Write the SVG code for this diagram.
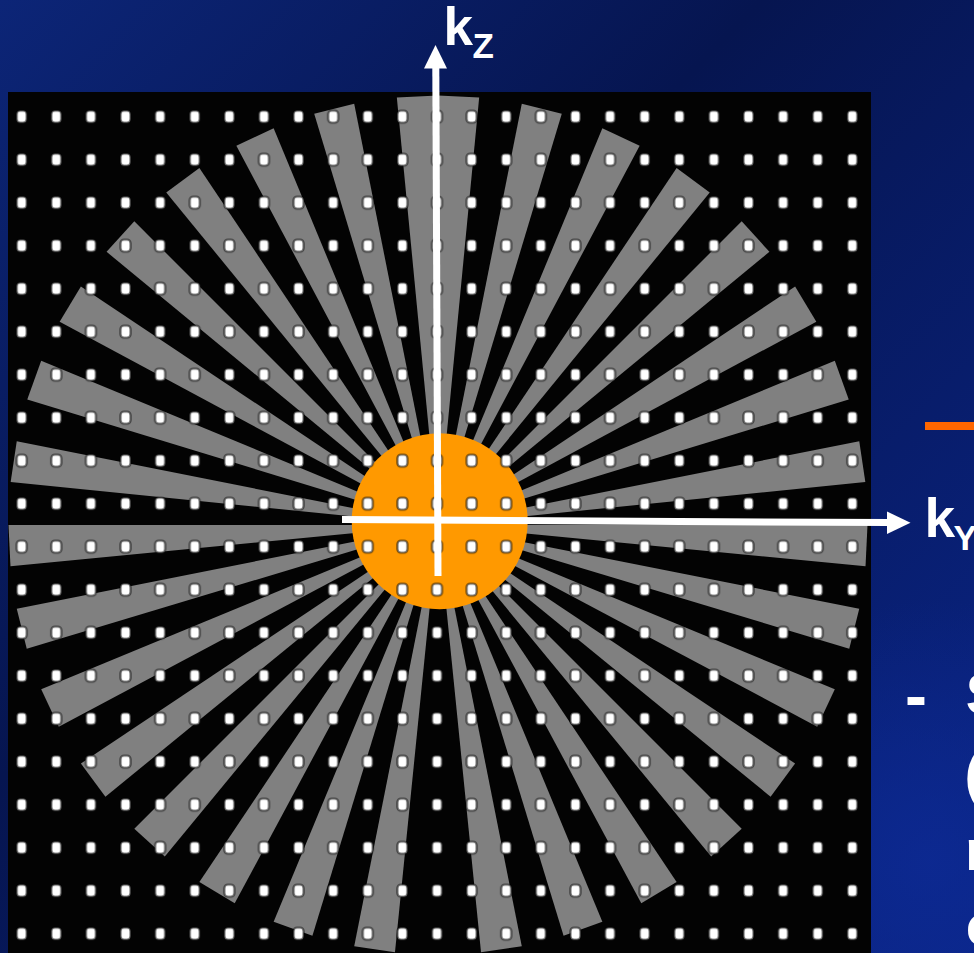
<svg xmlns="http://www.w3.org/2000/svg" width="974" height="953" viewBox="0 0 974 953">
<defs>
<style>
.lbl{font-family:"Liberation Sans",Arial,sans-serif;font-weight:bold;fill:#ffffff}
.blade{fill:#808080}
.ax{stroke:#ffffff;stroke-width:7;fill:none}
.head{fill:#ffffff}
</style>
<linearGradient id="bg" x1="0" y1="0" x2="974" y2="953" gradientUnits="userSpaceOnUse">
<stop offset="0" stop-color="#0c2577"/>
<stop offset="0.4" stop-color="#061550"/>
<stop offset="1" stop-color="#0a2587"/>
</linearGradient>
<radialGradient id="glow" cx="930" cy="860" r="260" gradientUnits="userSpaceOnUse">
<stop offset="0" stop-color="#0d2a94" stop-opacity="0.8"/>
<stop offset="1" stop-color="#0d2a94" stop-opacity="0"/>
</radialGradient>
<pattern id="dots" patternUnits="userSpaceOnUse" x="4.4" y="95.2" width="34.61" height="43">
<rect x="12.3" y="15.5" width="10" height="12" rx="3.5" fill="#ffffff" stroke="#000000" stroke-opacity="0.55" stroke-width="2.2"/>
</pattern>
<polygon id="bl" points="0,0 -41.17,-427.52 0,-429.5"/>
<polygon id="br" points="0,0 41.17,-427.52 0,-429.5"/>
</defs>

<g id="background">
<rect x="0" y="0" width="974" height="953" fill="url(#bg)"/>
<rect x="0" y="0" width="974" height="953" fill="url(#glow)"/>
</g>

<g id="kspace">
<rect x="8" y="92" width="863" height="861" fill="#030303"/>
</g>

<g id="blades" class="blade" transform="translate(438,525)">
<use href="#bl" transform="rotate(0)"/>
<use href="#bl" transform="rotate(-11.25)"/>
<use href="#bl" transform="rotate(-22.5)"/>
<use href="#bl" transform="rotate(-33.75)"/>
<use href="#bl" transform="rotate(-45)"/>
<use href="#bl" transform="rotate(-56.25)"/>
<use href="#bl" transform="rotate(-67.5)"/>
<use href="#bl" transform="rotate(-78.75)"/>
<use href="#bl" transform="rotate(-90)"/>
<use href="#bl" transform="rotate(-101.25)"/>
<use href="#bl" transform="rotate(-112.5)"/>
<use href="#bl" transform="rotate(-123.75)"/>
<use href="#bl" transform="rotate(-135)"/>
<use href="#bl" transform="rotate(-146.25)"/>
<use href="#bl" transform="rotate(-157.5)"/>
<use href="#bl" transform="rotate(-168.75)"/>
<use href="#br" transform="rotate(0)"/>
<use href="#br" transform="rotate(11.25)"/>
<use href="#br" transform="rotate(22.5)"/>
<use href="#br" transform="rotate(33.75)"/>
<use href="#br" transform="rotate(45)"/>
<use href="#br" transform="rotate(56.25)"/>
<use href="#br" transform="rotate(67.5)"/>
<use href="#br" transform="rotate(78.75)"/>
<use href="#br" transform="rotate(90)"/>
<use href="#br" transform="rotate(101.25)"/>
<use href="#br" transform="rotate(112.5)"/>
<use href="#br" transform="rotate(123.75)"/>
<use href="#br" transform="rotate(135)"/>
<use href="#br" transform="rotate(146.25)"/>
<use href="#br" transform="rotate(157.5)"/>
<use href="#br" transform="rotate(168.75)"/>
</g>

<g id="center-region">
<circle cx="439.7" cy="521.3" r="88" fill="#ff9900"/>
</g>

<g id="grid-points">
<rect x="8" y="92" width="863" height="861" fill="url(#dots)"/>
</g>

<g id="connectors">
<line class="ax" x1="438" y1="576" x2="435.8" y2="66"/>
<polygon class="head" points="424,68.5 447,68.5 435.5,45"/>
<line class="ax" x1="342" y1="519.5" x2="889" y2="522.6"/>
<polygon class="head" points="887,511.5 887,534 910.5,522.7"/>
</g>

<g id="label-kz">
<text class="lbl" x="443.5" y="45" font-size="53">k</text>
<text class="lbl" x="472.5" y="58" font-size="35">Z</text>
</g>
<g id="label-ky">
<text class="lbl" x="924.5" y="537" font-size="55">k</text>
<text class="lbl" x="953.5" y="550" font-size="35">Y</text>
</g>

<g id="side-panel">
<rect x="925" y="422" width="49" height="8" fill="#ff6600"/>
<text class="lbl" x="905" y="717.5" font-size="66">-</text>
<text class="lbl" x="965.7" y="714" font-size="58">S</text>
<text class="lbl" x="964.5" y="794" font-size="58">(</text>
<text class="lbl" x="965" y="870" font-size="58">r</text>
<text class="lbl" x="965.7" y="945" font-size="58">c</text>
</g>
</svg>
